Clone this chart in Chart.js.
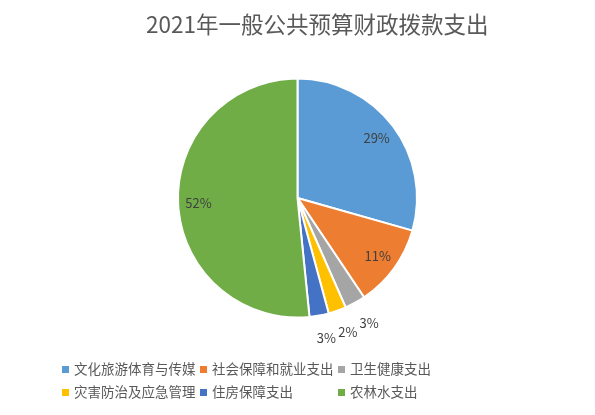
<!DOCTYPE html>
<html>
<head>
<meta charset="utf-8">
<script src="https://cdn.jsdelivr.net/npm/chart.js@4/dist/chart.umd.min.js"></script>
<style>
    body { margin: 0; background: #fff; }
    #quadro { position: relative; width: 595px; height: 415px; font-family: "Noto Sans CJK SC", sans-serif; }
    #titulo { position: absolute; top: 8px; left: 146px; font-size: 22.5px; line-height: 30px; color: #595959; white-space: nowrap; }
    #legenda { position: absolute; top: 358px; left: 62px; display: grid; grid-template-columns: 138px 138px 138px; row-gap: 3px; }
    #legenda div { font-size: 13.5px; color: #595959; line-height: 20px; white-space: nowrap; }
    #legenda span { display: inline-block; width: 7px; height: 7px; margin-right: 5px; vertical-align: 1px; }
</style>
</head>
<body>
<div id="quadro">
    <canvas id="grafico" width="595" height="415"></canvas>
    <div id="titulo">2021年一般公共预算财政拨款支出</div>
    <div id="legenda"></div>
</div>
<script>
const categorias = ["文化旅游体育与传媒", "社会保障和就业支出", "卫生健康支出", "灾害防治及应急管理", "住房保障支出", "农林水支出"];
const valores = [29.4, 11.2, 2.8, 2.4, 2.6, 51.6];
const cores = ["#5B9BD5", "#ED7D31", "#A5A5A5", "#FFC000", "#4472C4", "#70AD47"];

// rótulos de porcentagem: dentro das fatias grandes, fora das pequenas
const rotulosPorcentagem = {
    id: "rotulosPorcentagem",
    afterDatasetsDraw(chart) {
        const ctx = chart.ctx;
        const total = valores.reduce((a, b) => a + b, 0);
        ctx.save();
        ctx.font = "13px 'Noto Sans CJK SC', sans-serif";
        ctx.fillStyle = "#404040";
        ctx.textAlign = "center";
        ctx.textBaseline = "middle";
        chart.getDatasetMeta(0).data.forEach((arco, i) => {
            const p = arco.getProps(["x", "y", "startAngle", "endAngle", "outerRadius"], true);
            const meio = (p.startAngle + p.endAngle) / 2;
            const pct = valores[i] / total * 100;
            const r = pct > 5 ? p.outerRadius * 0.83 : p.outerRadius * 1.19;
            let x = p.x + Math.cos(meio) * r;
            let y = p.y + Math.sin(meio) * r;
            if (pct <= 5) x += 3;
            ctx.fillText(Math.round(pct) + "%", x, y);
        });
        ctx.restore();
    }
};

const grafico = new Chart(document.querySelector("#grafico"), {
    type: "pie",
    data: {
        labels: categorias,
        datasets: [{
            data: valores,
            backgroundColor: cores,
            borderColor: "#ffffff",
            borderWidth: 2
        }]
    },
    options: {
        responsive: false,
        animation: false,
        layout: { padding: { top: 77.5, bottom: 96.5, left: 0, right: 0 } },
        plugins: {
            legend: { display: false },
            tooltip: { enabled: false },
            title: { display: false }
        }
    },
    plugins: [rotulosPorcentagem]
});

function montarLegenda() {
    const legenda = document.querySelector("#legenda");
    categorias.forEach((nome, i) => {
        const item = document.createElement("div");
        item.innerHTML = `<span style="background:${cores[i]}"></span>${nome}`;
        legenda.appendChild(item);
    });
}

montarLegenda();
</script>
</body>
</html>
